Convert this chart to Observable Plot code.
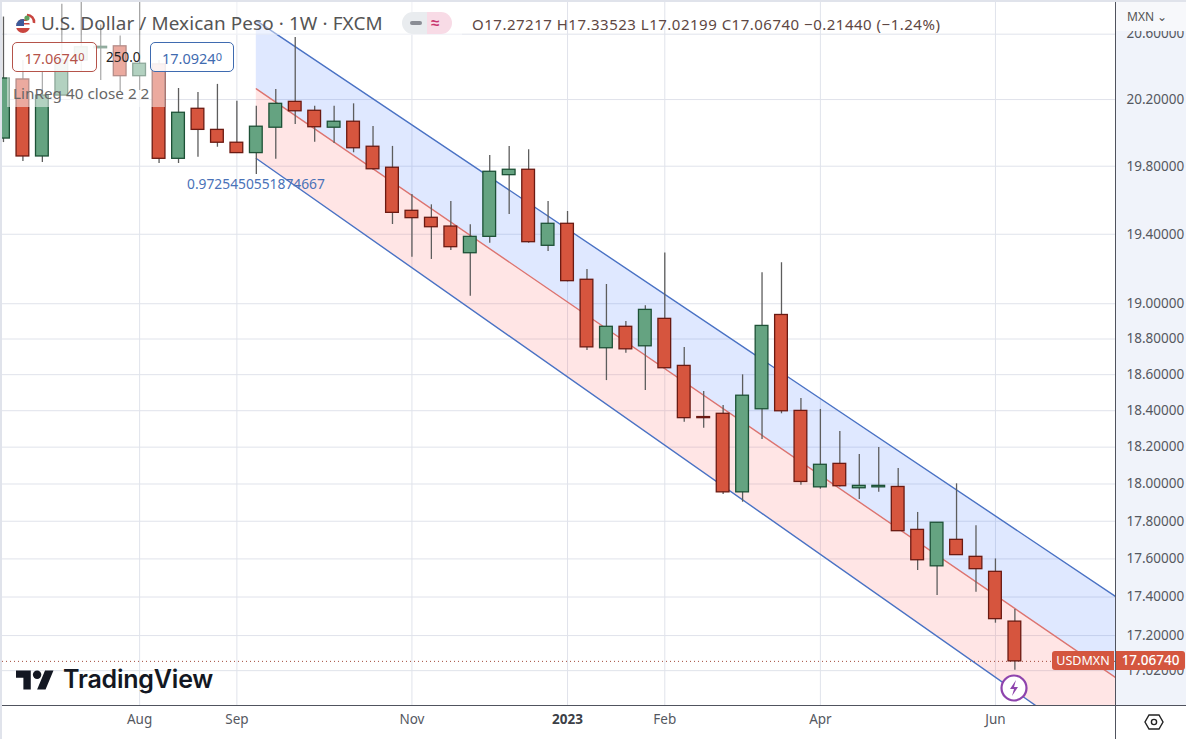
<!DOCTYPE html>
<html><head><meta charset="utf-8">
<script src="https://cdn.jsdelivr.net/npm/d3@7"></script>
<script src="https://cdn.jsdelivr.net/npm/@observablehq/plot@0.6"></script>
<style>
html,body{margin:0;padding:0;background:#fff;overflow:hidden}
#root{position:relative;width:1186px;height:739px;font-family:"Noto Sans",sans-serif;overflow:hidden}
#root svg{display:block}
.ov{position:absolute;white-space:nowrap}
</style></head><body><div id="root"></div>
<script>
const firstWeek = "2022-06-06", lastWeek = "2023-06-05";
const opens  = [19.965,20.322,19.858,20.224,20.438,20.513,20.525,20.342,20.414,19.844,20.144,20.017,19.94,19.878,20.03,20.186,20.132,20.03,20.066,19.916,19.791,19.537,19.496,19.445,19.29,19.385,19.747,19.779,19.333,19.461,19.137,18.748,18.869,18.759,18.914,18.649,18.365,18.383,17.955,18.408,18.936,18.399,17.982,18.109,17.977,17.982,17.984,17.754,17.561,17.701,17.611,17.532,17.27217];
const highs  = [20.706,20.438,20.365,20.786,20.799,20.656,20.588,20.799,20.438,20.267,20.243,20.292,20.19,20.159,20.261,20.579,20.159,20.159,20.174,20.037,19.918,19.633,19.572,19.591,19.455,19.864,19.918,19.898,19.591,19.533,19.196,19.11,18.899,18.989,19.292,18.752,18.506,18.429,18.599,19.177,19.235,18.468,18.407,18.286,18.16,18.198,18.084,17.847,17.793,18.001,17.776,17.6,17.33523];
const lows   = [19.941,19.828,19.822,20.224,20.365,20.316,20.243,20.255,19.816,19.816,19.854,19.913,19.876,19.751,19.842,20.049,19.943,19.936,19.88,19.777,19.457,19.267,19.254,19.306,19.043,19.348,19.515,19.348,19.3,19.125,18.735,18.567,18.72,18.512,18.634,18.337,18.304,17.943,17.902,18.242,18.383,17.993,17.972,17.984,17.916,17.955,17.745,17.539,17.408,17.618,17.425,17.264,17.02199];
const closes = [20.328,19.858,20.224,20.438,20.519,20.522,20.342,20.418,19.844,20.12,20.017,19.94,19.878,20.036,20.174,20.129,20.033,20.066,19.907,19.782,19.525,19.494,19.441,19.325,19.385,19.767,19.779,19.354,19.461,19.129,18.753,18.869,18.742,18.965,18.636,18.359,18.359,17.955,18.483,18.874,18.397,18.011,18.104,17.988,17.99,17.99,17.747,17.593,17.792,17.62,17.546,17.285,17.0674];
const yTicks = [20.6,20.2,19.8,19.4,19.0,18.8,18.6,18.4,18.2,18.0,17.8,17.6,17.4,17.2,17.02];
const monthTicks = ["2022-07-25","2022-08-29","2022-10-31","2023-01-30","2023-03-27","2023-05-29"];
const monthLabels = ["Aug","Sep","Nov","Feb","Apr","Jun"];
const yearTick = "2022-12-26", yearLabel = "2023";
const channelDates = ["2022-09-05","2023-07-11T05:00Z"];
const channelUpper = [20.684,17.403];
const channelMid   = [20.265,16.985];
const channelLower = [19.846,16.562];
const lastClose = 17.0674;

const red="#d6553e", redEdge="#6b1a12", green="#65a381", greenEdge="#1d5136";
const bars = d3.utcMonday.range(new Date(firstWeek), d3.utcDay.offset(new Date(lastWeek),1)).map((d,i)=>({
  date:d, open:opens[i], high:highs[i], low:lows[i], close:closes[i],
  top:Math.max(opens[i],closes[i]), bottom:Math.min(opens[i],closes[i]),
  up:closes[i]>=opens[i]
}));
const band = channelDates.map((d,i)=>({date:new Date(d),u:channelUpper[i],m:channelMid[i],l:channelLower[i]}));
const mDates = monthTicks.map(d=>new Date(d));
const allX = [...mDates,new Date(yearTick)];
const halfW = d=>[d3.utcHour.offset(d,-55),d3.utcHour.offset(d,55)];

const chart = Plot.plot({
  width:1186,height:739,marginTop:0,marginBottom:34,marginLeft:2,marginRight:71,
  style:{background:"transparent",fontFamily:'"Noto Sans",sans-serif',fontSize:"13.5px",color:"#555"},
  x:{type:"utc",domain:[new Date("2022-06-05T15:36Z"),new Date("2023-07-11T05:00Z")],axis:null},
  y:{type:"log",domain:[16.843,20.809],axis:null},
  marks:[
    Plot.gridY(yTicks,{stroke:"#e0e3eb",strokeOpacity:1,strokeWidth:1}),
    Plot.gridX(allX,{stroke:"#e0e3eb",strokeOpacity:1,strokeWidth:1}),
    Plot.areaY(band,{x:"date",y1:"u",y2:"m",fill:"#2962ff",fillOpacity:0.15,clip:true}),
    Plot.areaY(band,{x:"date",y1:"m",y2:"l",fill:"#ff5252",fillOpacity:0.15,clip:true}),
    Plot.line(band,{x:"date",y:"u",stroke:"#4a72c4",strokeWidth:1.4,clip:true}),
    Plot.line(band,{x:"date",y:"l",stroke:"#4a72c4",strokeWidth:1.4,clip:true}),
    Plot.line(band,{x:"date",y:"m",stroke:"#dc7470",strokeWidth:1.4,clip:true}),
    Plot.ruleY([lastClose],{stroke:"#a34a3a",strokeDasharray:"1 3",strokeWidth:1}),
    Plot.ruleX(bars,{x:"date",y1:"low",y2:"high",stroke:"#5d5d5d",strokeWidth:1.3,clip:true}),
    Plot.rect(bars,{x1:d=>halfW(d.date)[0],x2:d=>halfW(d.date)[1],y1:"bottom",y2:"top",
      fill:d=>d.up?green:red,stroke:d=>d.up?greenEdge:redEdge,strokeWidth:1.3,clip:true,inset:0}),
    Plot.axisY({anchor:"right",ticks:yTicks,tickFormat:d=>d.toFixed(5),tickSize:0,tickPadding:11,label:null,fill:"#55585f"}),
    Plot.axisX({ticks:mDates,tickFormat:d=>monthLabels[monthTicks.indexOf(d.toISOString().slice(0,10))],tickSize:0,tickPadding:9,label:null,fill:"#55585f"}),
    Plot.axisX({ticks:[new Date(yearTick)],tickFormat:()=>yearLabel,tickSize:0,tickPadding:9,label:null,fontWeight:700,fill:"#3c3f47"})
  ]
});
const root=document.getElementById("root");
function ov(css,html){const e=document.createElement("div");e.className="ov";e.style.cssText=css;e.innerHTML=html||"";root.appendChild(e);return e;}
ov("left:1116px;top:0;width:70px;height:705px;background:#f0f3fa");
chart.style.position="absolute";chart.style.left="0";chart.style.top="0";
root.appendChild(chart);
/* frame */
ov("left:0;top:0;width:1186px;height:2px;background:#e0e3eb");
ov("left:0;top:0;width:2px;height:739px;background:#e0e3eb");
ov("left:2px;top:705px;width:1184px;height:1px;background:#50535e");
ov("left:1115px;top:2px;width:1px;height:737px;background:#50535e");
ov("left:1116px;top:2px;width:70px;height:29px;background:#f7f8fb");
/* legend veil */
ov("left:7px;top:35px;width:158px;height:72px;background:rgba(255,255,255,.5)");
ov("left:7px;top:2px;width:455px;height:33px;background:rgba(255,255,255,.45)");
/* title */
ov("left:13px;top:11px;width:26px;height:26px",`<svg width="26" height="26" viewBox="0 0 26 26"><defs><clipPath id="c"><circle cx="10" cy="15" r="7"/></clipPath></defs><g clip-path="url(#c)"><rect x="3" y="8" width="14" height="14" fill="#fff"/><rect x="3" y="17" width="14" height="5" fill="#c9453f"/><rect x="3" y="8" width="14" height="2" fill="#c9453f"/><rect x="3" y="12" width="14" height="1.5" fill="#c9453f"/><rect x="3" y="8" width="8" height="7" fill="#3c5a9a"/></g><path d="M14 4a7 7 0 0 1 7 8" fill="none" stroke="#c9453f" stroke-width="2.5"/><circle cx="14" cy="7" r="2.6" fill="#5fa05f"/></svg>`);
ov('left:41px;top:11px;font-size:18.9px;line-height:25px;color:#555;letter-spacing:.1px',"U.S. Dollar / Mexican Peso · 1W · FXCM");
ov("left:402px;top:12px;width:25px;height:22px;background:#e9ecef;border-radius:11px 0 0 11px");
ov("left:427px;top:12px;width:25px;height:22px;background:#f8dbe6;border-radius:0 11px 11px 0");
ov("left:410px;top:21px;width:12px;height:4px;border-radius:2px;background:#8a8d95");
ov("left:431px;top:11px;font-size:15px;line-height:22px;color:#c8356e;font-weight:700","≈");
ov('left:472px;top:14px;font-size:15px;line-height:20px;color:#5e4743;letter-spacing:.5px',"O17.27217 H17.33523 L17.02199 C17.06740 −0.21440 (−1.24%)");
/* value tags */
const tag=(l,w,c,t)=>ov(`left:${l}px;top:42px;width:${w}px;height:28px;border:1px solid ${c};border-radius:5px;background:rgba(255,255,255,.85);color:${c};font-size:14.5px;line-height:28px;text-align:center;box-sizing:content-box`,t);
tag(12,83,"#b5534a",`17.0674<span style="font-size:11px;vertical-align:3px">0</span>`);
tag(150,82,"#3f6bb0",`17.0924<span style="font-size:11px;vertical-align:3px">0</span>`);
ov('left:106px;top:47px;font-size:13.5px;line-height:20px;color:#222',"250.0");
ov('left:13px;top:83px;font-size:15.3px;line-height:20px;color:#666',"LinReg 40 close 2 2");
ov('left:187px;top:174px;font-size:13.8px;line-height:20px;color:#4a72b8',"0.9725450551874667");
/* price scale */
ov('left:1127px;top:8px;font-size:12px;line-height:18px;color:#555',"MXN ⌄");
ov('left:1052px;top:651px;width:62px;height:19px;background:#d4563f;border-radius:3px 0 0 3px;color:#fff;font-size:12.5px;line-height:19px;text-align:center',"USDMXN");
ov('left:1116px;top:651px;width:69px;height:19px;background:#d4563f;border-radius:0 3px 3px 0;color:#fff;font-size:13.5px;font-weight:500;line-height:19px;text-align:center',"17.06740");
/* logo */
ov("left:16px;top:666px;width:40px;height:28px",`<svg width="38" height="30" viewBox="0 0 36 28"><path d="M14 22H7V11H0V4h14v18zM28 22h-8l7.5-18h8L28 22z" fill="#131722"/><circle cx="20" cy="8" r="4" fill="#131722"/></svg>`);
ov('left:63px;top:662px;font-family:Inter,sans-serif;font-size:25px;font-weight:600;line-height:34px;color:#131722;letter-spacing:-.2px',"TradingView");
/* lightning and settings icons */
ov("left:1000px;top:674px;width:28px;height:28px",`<svg width="28" height="28"><circle cx="14" cy="14" r="12.5" fill="#fff" stroke="#8e44ad" stroke-width="2.2"/><path d="M16 6l-6 9h4l-2 7 6-9h-4z" fill="#8e44ad"/></svg>`);
ov("left:1144px;top:712px;width:20px;height:20px",`<svg width="20" height="20"><path d="M5 3h10l4 7-4 7H5l-4-7z" fill="none" stroke="#222" stroke-width="1.4"/><circle cx="10" cy="10" r="2.6" fill="none" stroke="#222" stroke-width="1.4"/></svg>`);
</script></body></html>
